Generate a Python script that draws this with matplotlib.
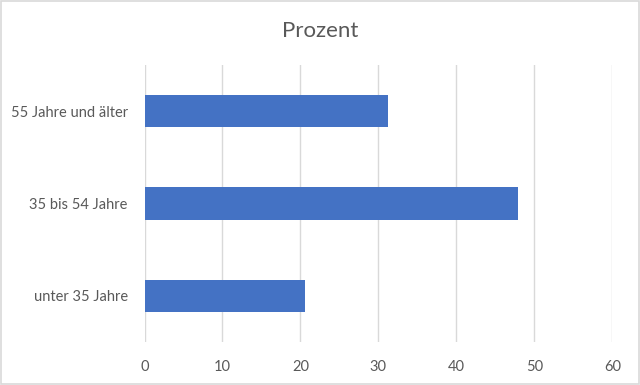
import matplotlib.pyplot as plt
import numpy as np

plt.rcParams['font.family'] = ['Lato', 'DejaVu Sans']

categories = ['unter 35 Jahre', '35 bis 54 Jahre', '55 Jahre und älter']
values = [20.6, 47.9, 31.2]
xticks = [0, 10, 20, 30, 40, 50, 60]

fig = plt.figure(figsize=(6.4, 3.85), dpi=100)
ax = fig.add_axes([0.2258, 0.1117, 0.7309, 0.7195])

y = np.arange(len(categories))
ax.barh(y, values, height=0.35, color='#4472C4', zorder=3)

ax.set_xlim(0, 60)
ax.set_ylim(-0.5, 2.5)
ax.set_xticks(xticks)
ax.set_yticks(y)
ax.set_yticklabels(categories)
ax.grid(axis='x', color='#D9D9D9', linewidth=1, zorder=0)
for s in ax.spines.values():
    s.set_visible(False)
ax.tick_params(axis='both', length=0, labelsize=10.5, colors='#595959')
ax.tick_params(axis='x', pad=13)
ax.tick_params(axis='y', pad=12)

fig.text(0.5, 0.92, 'Prozent', ha='center', va='center', fontsize=16, color='#595959')

# light frame around the chart
fig.patches.append(plt.Rectangle((0.002, 0.003), 0.996, 0.994, transform=fig.transFigure,
                                 fill=False, edgecolor='#D9D9D9', linewidth=1.2))

fig.savefig('out.png', dpi=100)
